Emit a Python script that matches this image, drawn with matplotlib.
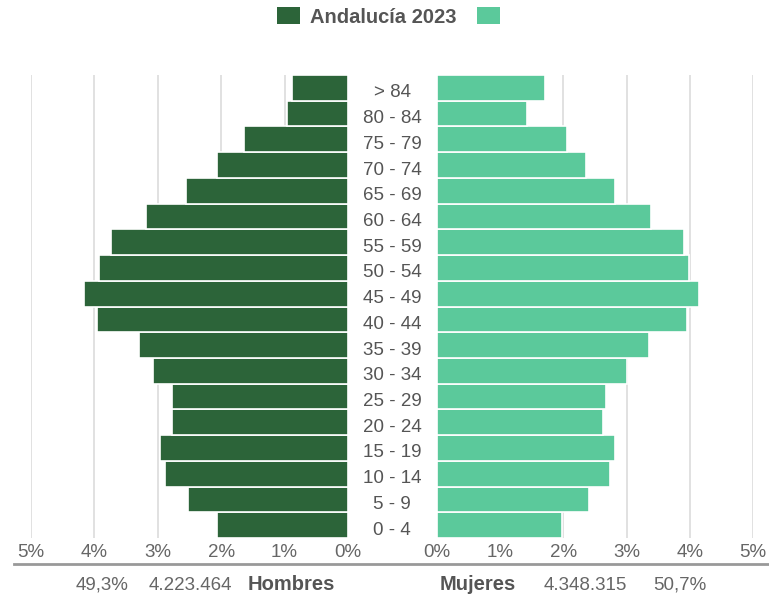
import matplotlib.pyplot as plt
from matplotlib.lines import Line2D
from matplotlib.patches import Patch

plt.rcParams['font.family'] = ['Liberation Sans', 'DejaVu Sans']

# age groups, bottom to top
ages = ["0 - 4", "5 - 9", "10 - 14", "15 - 19", "20 - 24", "25 - 29", "30 - 34",
        "35 - 39", "40 - 44", "45 - 49", "50 - 54", "55 - 59", "60 - 64",
        "65 - 69", "70 - 74", "75 - 79", "80 - 84", "> 84"]
hombres = [2.06, 2.52, 2.89, 2.96, 2.78, 2.78, 3.07, 3.30, 3.96, 4.17, 3.93,
           3.74, 3.19, 2.55, 2.06, 1.64, 0.97, 0.88]
mujeres = [1.98, 2.41, 2.74, 2.82, 2.63, 2.67, 3.01, 3.35, 3.96, 4.15, 3.99,
           3.91, 3.39, 2.82, 2.36, 2.06, 1.42, 1.71]
ticks = [0, 1, 2, 3, 4, 5]
tick_labels = ["0%", "1%", "2%", "3%", "4%", "5%"]

DARK = "#2c6439"
LIGHT = "#5bc99b"
TXT = "#666666"

W, H = 769, 601
fig = plt.figure(figsize=(W / 100, H / 100), dpi=100)

bottom = 1 - 538 / H
top = 1 - 75 / H
axl = fig.add_axes([31 / W, bottom, (348 - 31) / W, top - bottom])
axr = fig.add_axes([437 / W, bottom, (753 - 437) / W, top - bottom])

ypos = list(range(len(ages)))
axl.barh(ypos, hombres, height=1.0, color=DARK, edgecolor="white", linewidth=1.2, zorder=2)
axr.barh(ypos, mujeres, height=1.0, color=LIGHT, edgecolor="white", linewidth=1.2, zorder=2)

for ax in (axl, axr):
    ax.set_xlim(0, 5)
    ax.set_ylim(-0.5, len(ages) - 0.5)
    ax.set_xticks(ticks)
    ax.set_xticklabels(tick_labels)
    ax.set_yticks([])
    for s in ax.spines.values():
        s.set_visible(False)
    ax.tick_params(axis="x", length=0, labelsize=13.5, labelcolor=TXT, pad=4)
    ax.grid(axis="x", color="#dcdcdc", linewidth=1.2, zorder=0)
axl.invert_xaxis()

# age labels in the middle (sit a little below bar centres)
for i, a in enumerate(ages):
    yfig = bottom + (i + 0.5) / len(ages) * (top - bottom) - 5 / H
    fig.text(392 / W, yfig, a, ha="center", va="center", fontsize=13.5, color="#555555")

# bottom rule
fig.add_artist(Line2D([14 / W, 768 / W], [1 - 564 / H, 1 - 564 / H],
                      color="#999999", linewidth=2))

# totals
ytot = 1 - 585 / H
fig.text(102 / W, ytot, "49,3%", ha="center", va="center", fontsize=13.5, color=TXT)
fig.text(190 / W, ytot, "4.223.464", ha="center", va="center", fontsize=13.5, color=TXT)
fig.text(291 / W, ytot, "Hombres", ha="center", va="center", fontsize=14.5,
         color="#555555", fontweight="bold")
fig.text(478 / W, ytot, "Mujeres", ha="center", va="center", fontsize=14.5,
         color="#555555", fontweight="bold")
fig.text(585 / W, ytot, "4.348.315", ha="center", va="center", fontsize=13.5, color=TXT)
fig.text(680 / W, ytot, "50,7%", ha="center", va="center", fontsize=13.5, color=TXT)

# legend
handles = [Patch(facecolor=DARK, edgecolor="none", label="Andalucía 2023"),
           Patch(facecolor=LIGHT, edgecolor="none", label=" ")]
fig.legend(handles=handles, loc="center", bbox_to_anchor=(396 / W, 1 - 17 / H), ncol=2,
           frameon=False, handlelength=1.15, handleheight=0.85, columnspacing=1.0,
           handletextpad=0.5, prop={"size": 14.5, "weight": "bold"}, labelcolor="#555555")

fig.savefig("out.png", dpi=100)
